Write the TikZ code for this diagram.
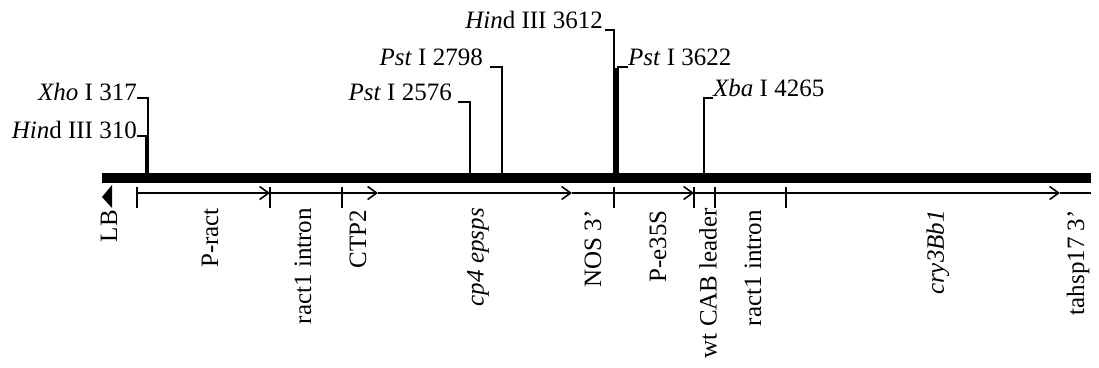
\documentclass[tikz,border=0pt]{standalone}
\usepackage{fontspec}
\setmainfont{Liberation Serif}
\usetikzlibrary{arrows.meta}
\begin{document}
\begin{tikzpicture}[x=1pt,y=1pt,
  font=\fontsize{25}{28}\selectfont,
  site/.style={line width=2pt},
  track/.style={line width=1.6pt},
  tickmark/.style={line width=1.6pt},
  barb/.style={-{Straight Barb[length=9pt,width=13pt]}},
  lbl/.style={inner sep=0pt},
  seg/.style={rotate=90, anchor=east, inner sep=0pt}
]
\useasboundingbox (0,0) rectangle (1099,-367);

% T-DNA backbone
\fill (102,-173) rectangle (1091,-183);
% left border
\fill (112,-185) -- (102,-197) -- (112,-208) -- cycle;

% restriction sites on the backbone
\coordinate (sXho)  at (148,-178);
\coordinate (sHa)   at (146,-178);
\coordinate (sPa)   at (470,-178);
\coordinate (sPb)   at (502,-178);
\coordinate (sHb)   at (614,-178);
\coordinate (sPc)   at (618,-178);
\coordinate (sXba)  at (704,-178);

\node[lbl, anchor=base east] (xho) at (137,-100) {\textit{Xho} I 317};
\node[lbl, anchor=base east] (hinA) at (137,-138) {\textit{Hin}d III 310};
\node[lbl, anchor=base east] (pstA) at (452,-100) {\textit{Pst} I 2576};
\node[lbl, anchor=base east] (pstB) at (483,-65) {\textit{Pst} I 2798};
\node[lbl, anchor=base east] (hinB) at (603,-28) {\textit{Hin}d III 3612};
\node[lbl, anchor=base west] (pstC) at (628,-65) {\textit{Pst} I 3622};
\node[lbl, anchor=base west] (xba) at (713,-96) {\textit{Xba} I 4265};

\draw[site] ([yshift=2pt]xho.base east) -| (sXho);
\draw[site] ([yshift=2pt]hinA.base east) -| (sHa);
\draw[site] ([shift={(6pt,-2pt)}]pstA.base east) -| (sPa);
\draw[site] ([shift={(7pt,-2pt)}]pstB.base east) -| (sPb);
\draw[site] ([shift={(2pt,-2pt)}]hinB.base east) -| (sHb);
\draw[site] ([yshift=-2pt]pstC.base west) -| (sPc);
\draw[site] ([yshift=-2pt]xba.base west) -| (sXba);
\draw[line width=5pt] ([yshift=-1pt]sPc |- pstC.base) ++(-2pt,-2pt) -- ([xshift=-2pt]sPc);

% element track
\coordinate (t0) at (137,-193);
\coordinate (t1) at (270,-193);
\coordinate (t2) at (342,-193);
\coordinate (a1) at (378,-193);
\coordinate (a2) at (572,-193);
\coordinate (t3) at (614,-193);
\coordinate (t4) at (694,-193);
\coordinate (t5) at (715,-193);
\coordinate (t6) at (786,-193);
\coordinate (a3) at (1060,-193);
\coordinate (tend) at (1091,-193);

\draw[track,barb] (t0) -- (t1);
\draw[track] (t1) -- (t2);
\draw[track,barb] (t2) -- (a1);
\draw[track,barb] (a1) -- (a2);
\draw[track] (a2) -- (t3);
\draw[track,barb] (t3) -- (t4);
\draw[track] (t4) -- (t5) -- (t6);
\draw[track,barb] (t6) -- (a3);
\draw[track] (a3) -- (tend);

\foreach \t in {t0,t1,t2,t3,t4,t5,t6}
  \draw[tickmark] ([yshift=6pt]\t) -- ([yshift=-15pt]\t);

% element names
\node[seg] (lb)   at (109,-210) {LB};
\node[seg] (pract) at (210,-208) {P-ract};
\node[seg] (intA) at (303,-208) {ract1 intron};
\node[seg] (ctp)  at (358,-210) {CTP2};
\node[seg] (cp4)  at (478,-208) {\textit{cp4 epsps}};
\node[seg] (nos)  at (593,-210) {NOS 3’};
\node[seg] (pe35) at (658,-210) {P-e35S};
\node[seg] (cab)  at (708,-208) {wt CAB leader};
\node[seg] (intB) at (753,-210) {ract1 intron};
\node[seg] (cry)  at (938,-210) {\textit{cry3Bb1}};
\node[seg] (hsp)  at (1078,-210) {tahsp17 3’};
\end{tikzpicture}
\end{document}
